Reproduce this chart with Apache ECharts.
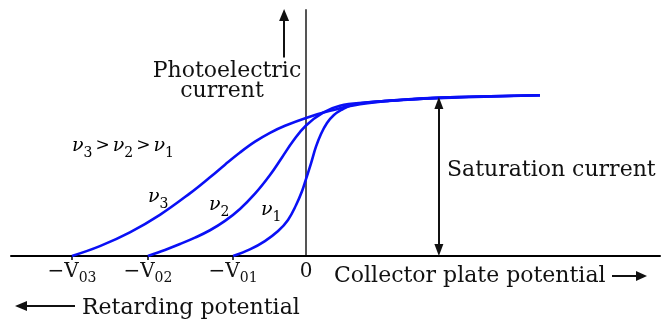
<!DOCTYPE html>
<html><head><meta charset="utf-8">
<script src="https://cdn.jsdelivr.net/npm/echarts@6/dist/echarts.min.js"></script>
<style>html,body{margin:0;padding:0;background:#fff}#c{width:664px;height:323px}</style>
</head><body><div id="c"></div>
<script>
// collector plate potential (arbitrary units, 0 at the vertical axis) and photoelectric current
const nu1Potential = [-2.43, -1.87, -1.37, -0.93, -0.60, -0.33, -0.13, 0, 0.17, 0.33, 0.50, 0.70, 0.93, 1.20, 1.53, 1.97, 2.80, 4.13, 7.80];
const nu1Current   = [0, 4.0, 9.1, 15.2, 22.0, 31.1, 39.6, 46.9, 56.7, 66.5, 74.4, 81.1, 86.0, 89.3, 92.1, 93.5, 94.7, 96.1, 98.0];
const nu2Potential = [-5.27, -4.70, -4.20, -3.70, -3.20, -2.70, -2.20, -1.70, -1.20, -0.80, -0.43, 0, 0.57, 1.13, 2.03, 3.13, 4.80, 7.80];
const nu2Current   = [0, 3.7, 7.3, 11.2, 15.7, 21.4, 28.7, 38.0, 49.4, 60.1, 70.1, 79.6, 87.4, 91.6, 93.6, 95.1, 96.7, 98.0];
const nu3Potential = [-7.80, -6.87, -5.87, -4.87, -3.87, -3.20, -2.70, -2.20, -1.70, -1.20, -0.70, 0, 0.80, 1.80, 3.13, 4.80, 7.80];
const nu3Current   = [0, 6.0, 14.4, 25.1, 38.2, 48.0, 55.7, 63.1, 69.7, 75.1, 79.4, 84.2, 88.5, 92.6, 95.1, 96.7, 98.0];

const seriesNames = ['ν1', 'ν2', 'ν3'];
const stopPotentials = [-7.80, -5.27, -2.43];
const tickLabelValues = [-7.80, -5.27, -2.43, 0];
const tickLabelMain = ['−V', '−V', '−V', '0'];
const tickLabelSub = ['03', '02', '01', ''];
const saturationArrowAt = 4.43;
const currentArrowAt = -0.73;

const titleY = ['Photoelectric', 'current'];
const titleX = 'Collector plate potential';
const titleRetard = 'Retarding potential';
const titleSat = 'Saturation current';

const FONT = '"DejaVu Serif", serif';
const BLUE = '#0a10f5';

function zip(a, b) { return a.map((v, i) => [v, b[i]]); }

const chart = echarts.init(document.getElementById('c'), null, {renderer: 'canvas'});

const lineSeries = [[nu1Potential, nu1Current], [nu2Potential, nu2Current], [nu3Potential, nu3Current]].map((p, i) => ({
  type: 'line', name: seriesNames[i], data: zip(p[0], p[1]),
  smooth: 0.4, showSymbol: false, symbol: 'none',
  lineStyle: {color: BLUE, width: 2.6}, z: 3, clip: false
}));

const arrowSeries = {
  type: 'line', data: [], clip: false, silent: true,
  markLine: {
    silent: true, animation: false, label: {show: false},
    data: [
      [{coord: [currentArrowAt, 121], symbol: 'none'}, {coord: [currentArrowAt, 147], symbol: 'triangle', symbolSize: [10, 12]}],
      [{coord: [saturationArrowAt, 3.6], symbol: 'triangle', symbolSize: [9, 12]}, {coord: [saturationArrowAt, 93.3], symbol: 'triangle', symbolSize: [9, 12]}]
    ],
    lineStyle: {color: '#111', width: 2, type: 'solid'},
    itemStyle: {color: '#111'}
  }
};

function nuLabel(d) { return '{n|ν}{d|' + d + '}'; }
const nuRich = {
  n: {fontFamily: FONT, fontStyle: 'italic', fontSize: 19, color: '#111', lineHeight: 28},
  d: {fontFamily: FONT, fontSize: 14, color: '#111', lineHeight: 14, padding: [14, 0, 0, 0]},
  g: {fontFamily: FONT, fontSize: 17, color: '#111', lineHeight: 28, padding: [0, 3, 0, 3]}
};

const option = {
  animation: false,
  backgroundColor: '#fff',
  grid: {left: 11, right: 4, top: 10, bottom: 67, containLabel: false, outerBoundsMode: 'none'},
  xAxis: {
    type: 'value', min: -9.833, max: 11.8,
    axisLine: {show: true, onZero: false, lineStyle: {color: '#000', width: 2}},
    axisTick: {show: true, customValues: stopPotentials, length: 4, inside: false, lineStyle: {color: '#000', width: 1.5}},
    splitLine: {show: false},
    axisLabel: {
      show: true, customValues: tickLabelValues, margin: 1,
      formatter: function (v) {
        const i = tickLabelValues.findIndex(t => Math.abs(t - v) < 1e-6);
        if (i < 0) return '';
        return tickLabelSub[i] ? '{m|' + tickLabelMain[i] + '}{s|' + tickLabelSub[i] + '}' : '{m|' + tickLabelMain[i] + '}';
      },
      rich: {
        m: {fontFamily: FONT, fontSize: 20, color: '#111', lineHeight: 30},
        s: {fontFamily: FONT, fontSize: 14, color: '#111', lineHeight: 16, padding: [12, 0, 0, 0]}
      }
    }
  },
  yAxis: {
    type: 'value', min: 0, max: 150,
    axisLine: {show: true, onZero: true, lineStyle: {color: '#555', width: 2}},
    axisTick: {show: false}, axisLabel: {show: false}, splitLine: {show: false}
  },
  series: lineSeries.concat([arrowSeries]),
  graphic: [
    {type: 'text', x: 227, y: 71, style: {text: titleY[0], font: '22px ' + FONT, fill: '#111', align: 'center', verticalAlign: 'middle'}},
    {type: 'text', x: 222, y: 91, style: {text: titleY[1], font: '22px ' + FONT, fill: '#111', align: 'center', verticalAlign: 'middle'}},
    {type: 'text', x: 447, y: 170, style: {text: titleSat, font: '22px ' + FONT, fill: '#111', align: 'left', verticalAlign: 'middle'}},
    {type: 'text', x: 334, y: 276, style: {text: titleX, font: '22px ' + FONT, fill: '#111', align: 'left', verticalAlign: 'middle'}},
    {type: 'text', x: 82, y: 308, style: {text: titleRetard, font: '22px ' + FONT, fill: '#111', align: 'left', verticalAlign: 'middle'}},
    {type: 'line', shape: {x1: 612, y1: 276, x2: 640, y2: 276}, style: {stroke: '#111', lineWidth: 2}},
    {type: 'polygon', shape: {points: [[647, 276], [636, 271], [636, 281]]}, style: {fill: '#111'}},
    {type: 'line', shape: {x1: 22, y1: 306, x2: 75, y2: 306}, style: {stroke: '#111', lineWidth: 2}},
    {type: 'polygon', shape: {points: [[15, 306], [27, 301], [27, 311]]}, style: {fill: '#111'}},
    {type: 'text', x: 72, y: 146, style: {text: nuLabel('3') + '{g|>}' + nuLabel('2') + '{g|>}' + nuLabel('1'), rich: nuRich, align: 'left', verticalAlign: 'middle'}},
    {type: 'text', x: 148, y: 197, style: {text: nuLabel('3'), rich: nuRich, align: 'left', verticalAlign: 'middle'}},
    {type: 'text', x: 209, y: 205, style: {text: nuLabel('2'), rich: nuRich, align: 'left', verticalAlign: 'middle'}},
    {type: 'text', x: 261, y: 210, style: {text: nuLabel('1'), rich: nuRich, align: 'left', verticalAlign: 'middle'}}
  ]
};
chart.setOption(option);
</script>
</body></html>
